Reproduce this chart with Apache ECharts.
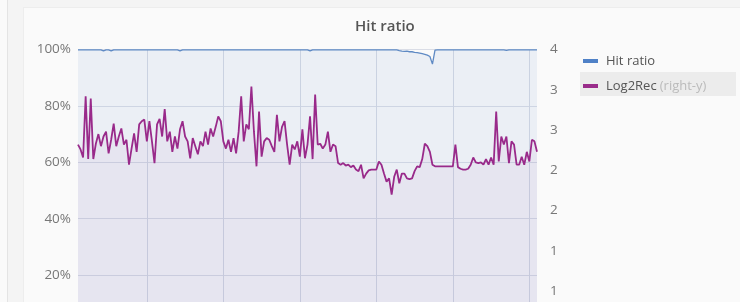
<!DOCTYPE html>
<html>
<head>
<meta charset="utf-8">
<script src="https://cdn.jsdelivr.net/npm/echarts@6/dist/echarts.min.js"></script>
<style>
  html, body { margin: 0; padding: 0; overflow: hidden; background: #f4f4f4; }
  #side { position: absolute; left: 0; top: 0; width: 7px; height: 360px; background: #fafafa; border-right: 1px solid #e4e4e4; }
  #card { position: absolute; left: 23px; top: 7px; width: 730px; height: 360px; background: #fafafa; border: 1px solid #ededed; }
  #chart { position: absolute; left: 0; top: 0; width: 740px; height: 360px; }
</style>
</head>
<body>
<div id="side"></div>
<div id="card"></div>
<div id="chart"></div>
<script>
  // right-y series, one sample per step
  const log2Rec = [
    2.82, 2.76, 2.66, 3.42, 2.64, 3.39, 2.64, 2.83, 2.95, 2.80,
    2.92, 2.98, 2.71, 2.88, 3.08, 2.80, 2.92, 3.02, 2.82, 2.88,
    2.57, 2.77, 2.96, 2.73, 3.07, 3.11, 3.13, 2.86, 3.11, 2.86,
    2.59, 3.07, 3.14, 2.92, 3.26, 2.86, 2.98, 2.73, 2.92, 2.77,
    3.01, 3.11, 2.92, 2.86, 2.65, 2.90, 2.80, 2.70, 2.86, 2.80,
    2.98, 2.82, 3.02, 2.92, 3.04, 3.17, 3.11, 2.86, 2.77, 2.88,
    2.73, 2.90, 2.71, 2.98, 3.42, 2.86, 3.07, 3.01, 3.54, 2.98,
    2.55, 3.23, 2.67, 2.86, 2.90, 2.88, 2.80, 2.73, 3.19, 2.86,
    3.04, 3.11, 2.82, 2.57, 2.82, 2.76, 2.86, 2.67, 3.01, 2.65,
    2.82, 3.17, 2.64, 3.44, 2.82, 2.83, 2.77, 2.82, 2.98, 2.73,
    2.82, 2.80, 2.59, 2.57, 2.59, 2.56, 2.57, 2.54, 2.56, 2.51,
    2.49, 2.57, 2.40, 2.46, 2.50, 2.51, 2.51, 2.51, 2.61, 2.57,
    2.46, 2.36, 2.40, 2.20, 2.42, 2.51, 2.34, 2.46, 2.46, 2.40,
    2.39, 2.40, 2.49, 2.55, 2.54, 2.64, 2.83, 2.80, 2.73, 2.57,
    2.55, 2.55, 2.55, 2.55, 2.55, 2.55, 2.55, 2.55, 2.82, 2.54,
    2.52, 2.51, 2.51, 2.52, 2.57, 2.66, 2.60, 2.59, 2.60, 2.57,
    2.64, 2.57, 2.66, 2.57, 3.23, 2.61, 2.92, 2.82, 2.92, 2.59,
    2.86, 2.82, 2.57, 2.57, 2.67, 2.57, 2.73, 2.61, 2.88, 2.86,
    2.73
  ];

  // hit ratio in percent
  const hitRatio = [
    99.9, 99.9, 99.9, 99.9, 99.9, 99.9, 99.9, 99.9, 99.9, 99.9,
    99.5, 99.9, 99.9, 99.5, 99.9, 99.9, 99.9, 99.9, 99.9, 99.9,
    99.9, 99.9, 99.9, 99.9, 99.9, 99.9, 99.9, 99.9, 99.9, 99.9,
    99.9, 99.9, 99.9, 99.9, 99.9, 99.9, 99.9, 99.9, 99.9, 99.9,
    99.5, 99.9, 99.9, 99.9, 99.9, 99.9, 99.9, 99.9, 99.9, 99.9,
    99.9, 99.9, 99.9, 99.9, 99.9, 99.9, 99.9, 99.9, 99.9, 99.9,
    99.9, 99.9, 99.9, 99.9, 99.9, 99.9, 99.9, 99.9, 99.9, 99.9,
    99.9, 99.9, 99.9, 99.9, 99.9, 99.9, 99.9, 99.9, 99.9, 99.9,
    99.9, 99.9, 99.9, 99.9, 99.9, 99.9, 99.9, 99.9, 99.9, 99.9,
    99.9, 99.5, 99.9, 99.9, 99.9, 99.9, 99.9, 99.9, 99.9, 99.9,
    99.9, 99.9, 99.9, 99.9, 99.9, 99.9, 99.9, 99.9, 99.9, 99.9,
    99.9, 99.9, 99.9, 99.9, 99.9, 99.9, 99.9, 99.9, 99.9, 99.9,
    99.9, 99.9, 99.9, 99.9, 99.9, 99.9, 99.6, 99.4, 99.3, 99.4,
    99.2, 99.2, 99.0, 98.9, 98.7, 98.5, 98.3, 98.0, 97.5, 94.8,
    99.8, 99.9, 99.9, 99.9, 99.9, 99.9, 99.9, 99.9, 99.9, 99.9,
    99.9, 99.9, 99.9, 99.9, 99.9, 99.9, 99.9, 99.9, 99.9, 99.9,
    99.9, 99.9, 99.9, 99.9, 99.9, 99.9, 99.9, 99.9, 99.7, 99.9,
    99.9, 99.9, 99.9, 99.9, 99.9, 99.9, 99.9, 99.9, 99.9, 99.9,
    99.9
  ];

  const samples = log2Rec.map((_, i) => i);
  const seriesNames = ['Hit ratio', 'Log2Rec'];
  const FONT = 'Open Sans';

  const chart = echarts.init(document.getElementById('chart'), null, { renderer: 'canvas' });

  chart.setOption({
    animation: false,
    title: {
      text: 'Hit ratio',
      left: 350,
      top: 14,
      textStyle: { fontFamily: FONT, fontSize: 15, fontWeight: 600, color: '#555' }
    },
    color: ['#4f81c7', '#9a2d8b'],
    graphic: [
      { type: 'rect', left: 580, top: 72, shape: { width: 156, height: 24 }, style: { fill: '#ececec' }, z: -1 }
    ],
    legend: {
      orient: 'vertical',
      left: 578,
      top: 48,
      itemGap: 9,
      itemWidth: 15,
      itemHeight: 4,
      icon: 'rect',
      data: seriesNames,
      formatter: name => name === 'Log2Rec' ? '{a|Log2Rec} {b|(right-y)}' : '{a|' + name + '}',
      textStyle: {
        fontFamily: FONT,
        lineHeight: 16,
        padding: [0, 0, 0, 3],
        rich: {
          a: { fontFamily: FONT, fontSize: 13, color: '#555' },
          b: { fontFamily: FONT, fontSize: 13, color: '#bbb' }
        }
      }
    },
    grid: { left: 78, right: 203, top: 49.5, bottom: 28.5 },
    xAxis: {
      type: 'category',
      data: samples,
      boundaryGap: false,
      axisLine: { show: false },
      axisTick: { show: false },
      axisLabel: { show: false },
      splitLine: {
        show: true,
        interval: idx => idx >= 27 && (idx - 27) % 30 === 0,
        lineStyle: { color: '#d6dae4', width: 1 }
      }
    },
    yAxis: [
      {
        type: 'value',
        min: 0,
        max: 100,
        interval: 20,
        axisLine: { show: false },
        axisTick: { show: false },
        axisLabel: { formatter: '{value}%', fontFamily: FONT, fontSize: 13.5, color: '#777', margin: 7 },
        splitLine: { lineStyle: { color: '#dadde6' } }
      },
      {
        type: 'value',
        min: 0.5,
        max: 4,
        interval: 0.5,
        axisLine: { show: false },
        axisTick: { show: false },
        axisLabel: { formatter: v => String(Math.floor(v)), fontFamily: FONT, fontSize: 13.5, color: '#777', margin: 13 },
        splitLine: { show: false }
      }
    ],
    series: [
      {
        name: 'Hit ratio',
        type: 'line',
        yAxisIndex: 0,
        data: hitRatio,
        showSymbol: false,
        lineStyle: { width: 1.3, color: '#5f8ac4' },
        areaStyle: { color: 'rgba(79,129,199,0.12)', origin: 'start' }
      },
      {
        name: 'Log2Rec',
        type: 'line',
        yAxisIndex: 1,
        data: log2Rec,
        showSymbol: false,
        lineStyle: { width: 1.8, color: '#992a8a' },
        areaStyle: { color: 'rgba(150,60,150,0.08)', origin: 'start' }
      }
    ]
  });
</script>
</body>
</html>
